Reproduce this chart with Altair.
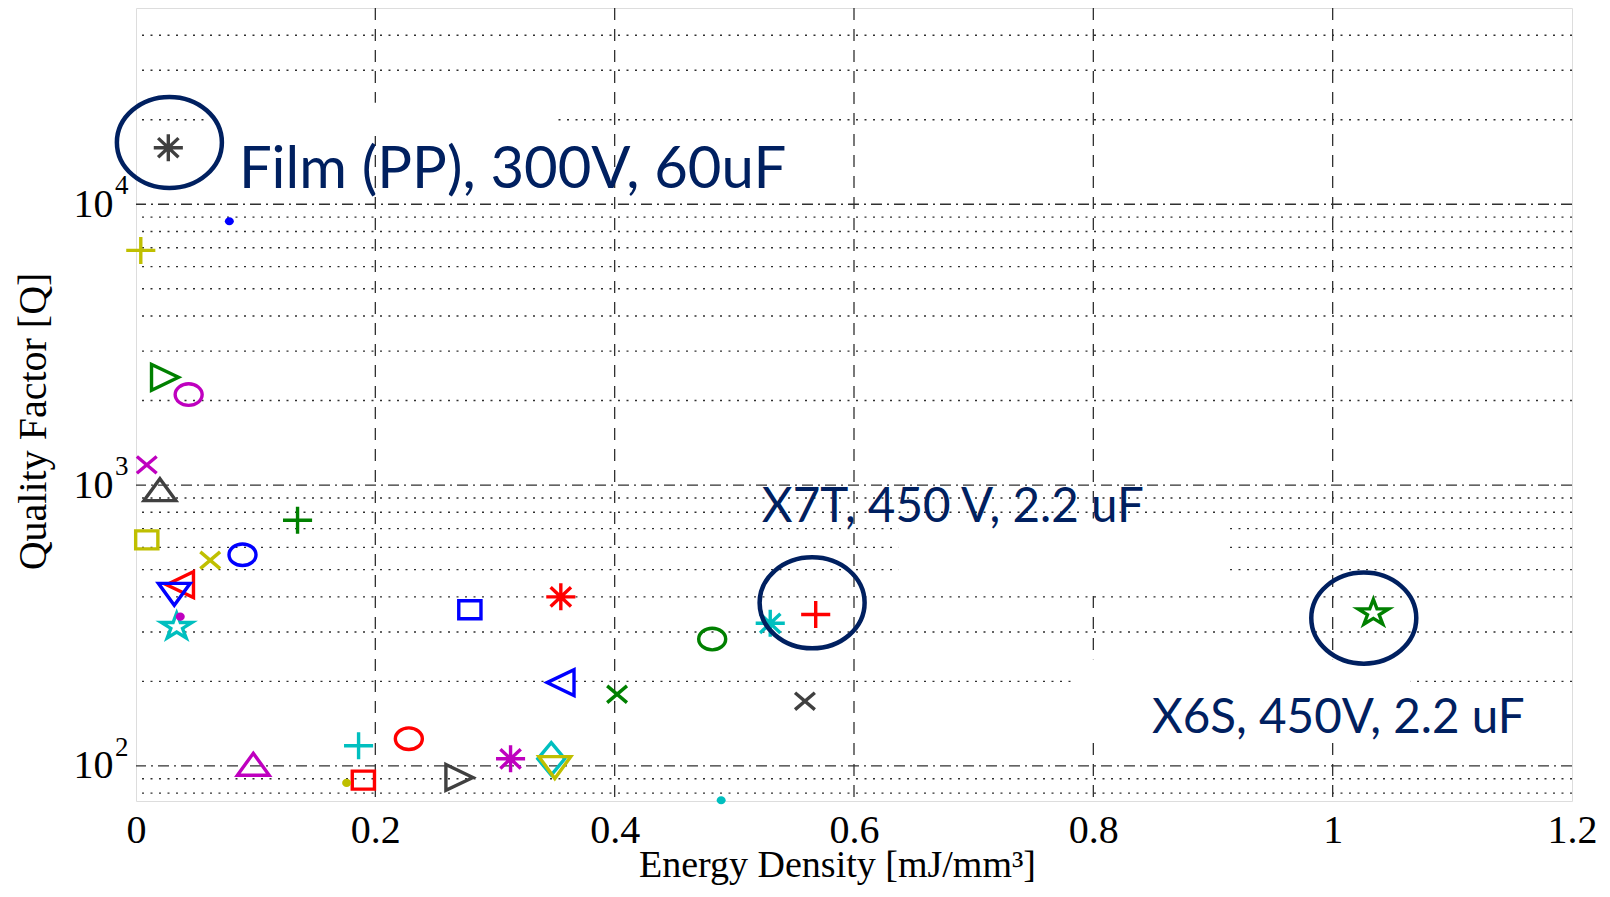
import math
import altair as alt
import pandas as pd

# ---------------- data ----------------
energy = [0.027, 0.078, 0.004, 0.024, 0.044, 0.009, 0.020, 0.009, 0.135, 0.062,
          0.089, 0.037, 0.032, 0.037, 0.034, 0.098, 0.186, 0.228, 0.176, 0.190,
          0.270, 0.279, 0.313, 0.355, 0.355, 0.347, 0.350, 0.402, 0.489, 0.4815,
          0.530, 0.568, 0.559, 1.034]
quality = [15900, 8700, 6850, 2420, 2100, 1180, 960, 638, 750, 540,
           565, 442, 410, 340, 313, 101, 118, 125, 87, 89,
           91, 360, 106, 400, 198, 106, 99, 180, 75.5, 283,
           322, 346, 170, 350]
marker = ["asterisk", "dot", "plus", "tri_right", "circle", "x", "tri_up", "square", "plus", "x",
          "circle", "tri_left", "tri_down", "dot", "star", "tri_up", "plus", "circle", "dot", "square",
          "tri_right", "square", "asterisk", "asterisk", "tri_left", "diamond", "tri_down", "x", "dot", "circle",
          "asterisk", "plus", "x", "star"]
colour = ["k", "b", "y", "g", "m", "m", "k", "y", "g", "y",
          "b", "r", "b", "m", "c", "m", "c", "r", "y", "r",
          "k", "b", "m", "r", "b", "c", "y", "g", "c", "g",
          "c", "r", "k", "g"]

# highlighted capacitors (circled) and their labels
circ_x = [0.0279, 0.565, 1.026]
circ_q = [16600, 381, 336]
label_text = ["Film (PP), 300V, 60uF", "X7T, 450 V, 2.2 uF", "X6S, 450V, 2.2 uF"]
label_x = [0.086, 0.523, 0.849]
label_q = [11400, 738, 131]

# white text-box backgrounds of the labels (data units)
mask_x0 = [0.060, 0.637, 0.786]
mask_x1 = [0.348, 0.910, 1.065]
mask_q0 = [17500, 430, 126]
mask_q1 = [23000, 760, 240]

# ticks / grid
x_ticks = [0, 0.2, 0.4, 0.6, 0.8, 1.0, 1.2]
x_grid = [0.2, 0.4, 0.6, 0.8, 1.0]
y_major = [100, 1000, 10000]
y_exp = ["2", "3", "4"]
y_minor = [80, 90, 200, 300, 400, 500, 600, 700, 800, 900,
           2000, 3000, 4000, 5000, 6000, 7000, 8000, 9000,
           20000, 30000, 40000]

# ---------------- styling ----------------
PALETTE = {"b": "#0000FF", "g": "#008000", "r": "#FF0000", "c": "#00BFBF",
           "m": "#BF00BF", "y": "#BFBF00", "k": "#404040"}
NAVY = "#002060"
SERIF = "Liberation Serif"
SANS = "Lato"


def ellipse(rx, ry):
    return f"M{-rx},0A{rx},{ry},0,1,1,{rx},0A{rx},{ry},0,1,1,{-rx},0Z"


def star(hw, hh):
    pts = []
    for k in range(10):
        ang = math.radians(-90 + 36 * k)
        r = 1.0 if k % 2 == 0 else 0.382
        pts.append((hw / 0.951 * r * math.cos(ang), hh / 0.905 * r * math.sin(ang)))
    return "M" + "L".join(f"{px:.3f},{py:.3f}" for px, py in pts) + "Z"


SHAPES = {
    "circle": ellipse(0.9, 0.72),
    "square": "M-0.74,-0.6H0.74V0.6H-0.74Z",
    "tri_up": "M0,-0.76L1.06,0.7L-1.06,0.7Z",
    "tri_down": "M0,0.76L1.06,-0.7L-1.06,-0.7Z",
    "tri_right": "M0.92,0L-0.88,-0.86L-0.88,0.86Z",
    "tri_left": "M-0.92,0L0.88,-0.86L0.88,0.86Z",
    "plus": "M-0.97,0H0.97M0,-0.9V0.9",
    "x": "M-0.66,-0.56L0.66,0.56M-0.66,0.56L0.66,-0.56",
    "asterisk": "M-0.97,0H0.97M0,-0.9V0.9M-0.68,-0.64L0.68,0.64M-0.68,0.64L0.68,-0.64",
    "star": star(1.02, 0.83),
    "diamond": "M0,-1.08L0.9,0L0,1.08L-0.9,0Z",
    "dot": ellipse(0.3, 0.27),
}
shape_dom = list(SHAPES.keys())
shape_rng = [SHAPES[k] for k in shape_dom]

pts = pd.DataFrame({"x": energy, "q": quality, "marker": marker,
                    "col": [PALETTE[c] for c in colour]})
circ = pd.DataFrame({"x": circ_x, "q": circ_q})
labels = pd.DataFrame({"x": label_x, "q": label_q, "t": label_text})
masks = pd.DataFrame({"x0": mask_x0, "x1": mask_x1, "q0": mask_q0, "q1": mask_q1})
xg = pd.DataFrame({"v": x_grid})
ymaj = pd.DataFrame({"v": y_major})
ymin = pd.DataFrame({"v": y_minor})
yexp = pd.DataFrame({"v": y_major, "e": y_exp})

XS = alt.Scale(domain=[0, 1.2], nice=False, zero=False)
YS = alt.Scale(type="log", domain=[75, 50000], nice=False)

X_AXIS = alt.Axis(values=x_ticks, format="~g", grid=False, ticks=False, domain=False,
                  labelFont=SERIF, labelFontSize=40, labelColor="#000", labelPadding=9,
                  labelFlush=False, labelOverlap=False,
                  title="Energy Density [mJ/mm³]", titleFont=SERIF, titleFontSize=38,
                  titleFontWeight="normal", titleColor="#000",
                  titleX=701, titleY=75, titleBaseline="alphabetic", titleAlign="center")
Y_AXIS = alt.Axis(values=y_major, labelExpr="'10'", grid=False, ticks=False, domain=False,
                  labelFont=SERIF, labelFontSize=40, labelColor="#000", labelPadding=23,
                  labelOverlap=False, labelFlush=False,
                  title="Quality Factor [Q]", titleFont=SERIF, titleFontSize=40,
                  titleFontWeight="normal", titleColor="#000",
                  titleX=-103, titleY=413, titleAngle=270, titleBaseline="middle",
                  titleAlign="center")


def X(field):
    return alt.X(field, scale=XS, axis=X_AXIS)


def Y(field):
    return alt.Y(field, scale=YS, axis=Y_AXIS)


GRID = "#303030"

vgrid = alt.Chart(xg).mark_rule(color=GRID, strokeWidth=1.3, strokeDash=[12, 9]).encode(
    x=X("v:Q"))
hmajor = alt.Chart(ymaj).mark_rule(color=GRID, strokeWidth=1.4, strokeDash=[11, 5, 2, 5]).encode(
    y=Y("v:Q"))
hminor = alt.Chart(ymin).mark_rule(color=GRID, strokeWidth=1.4, strokeDash=[2, 6.5]).encode(
    y=Y("v:Q"))

mask_layer = alt.Chart(masks).mark_rect(color="white", opacity=1).encode(
    x=X("x0:Q"), x2="x1:Q", y=Y("q0:Q"), y2="q1:Q")

open_pts = alt.Chart(pts).transform_filter(alt.datum.marker != "dot").mark_point(
    filled=False, size=900, strokeWidth=3.4, opacity=1).encode(
    x=X("x:Q"), y=Y("q:Q"),
    shape=alt.Shape("marker:N", scale=alt.Scale(domain=shape_dom, range=shape_rng), legend=None),
    color=alt.Color("col:N", scale=None))

dot_pts = alt.Chart(pts).transform_filter(alt.datum.marker == "dot").mark_point(
    filled=True, size=900, strokeWidth=0, opacity=1).encode(
    x=X("x:Q"), y=Y("q:Q"),
    shape=alt.Shape("marker:N", scale=alt.Scale(domain=shape_dom, range=shape_rng), legend=None),
    color=alt.Color("col:N", scale=None))

rings = alt.Chart(circ).mark_point(
    shape=ellipse(1, 0.867), size=11025, filled=False, color=NAVY, strokeWidth=4.5, opacity=1).encode(
    x=X("x:Q"), y=Y("q:Q"))

film_label = alt.Chart(labels).transform_filter(alt.datum.t == label_text[0]).mark_text(
    align="left", baseline="alphabetic", font=SANS, fontSize=58, color=NAVY).encode(
    x=X("x:Q"), y=Y("q:Q"), text="t:N")
mlcc_labels = alt.Chart(labels).transform_filter(alt.datum.t != label_text[0]).mark_text(
    align="left", baseline="alphabetic", font=SANS, fontSize=47.5, color=NAVY).encode(
    x=X("x:Q"), y=Y("q:Q"), text="t:N")

exps = alt.Chart(yexp).mark_text(
    align="left", baseline="alphabetic", font=SERIF, fontSize=27, color="#000",
    dx=-21, dy=-10).encode(
    x=alt.datum(0, scale=XS, axis=X_AXIS),
    y=Y("v:Q"), text="e:N")

chart = alt.layer(
    vgrid, hminor, hmajor, mask_layer, open_pts, dot_pts, rings, film_label, mlcc_labels, exps
).properties(
    width=1436, height=793,
    autosize=alt.AutoSizeParams(type="none"),
    padding={"left": 128, "top": 0, "right": 26, "bottom": 84},
).configure_view(
    stroke="#404040", strokeWidth=2
).configure(background="white")

chart.save("out.html", embed_options={"renderer": "svg", "actions": False})
